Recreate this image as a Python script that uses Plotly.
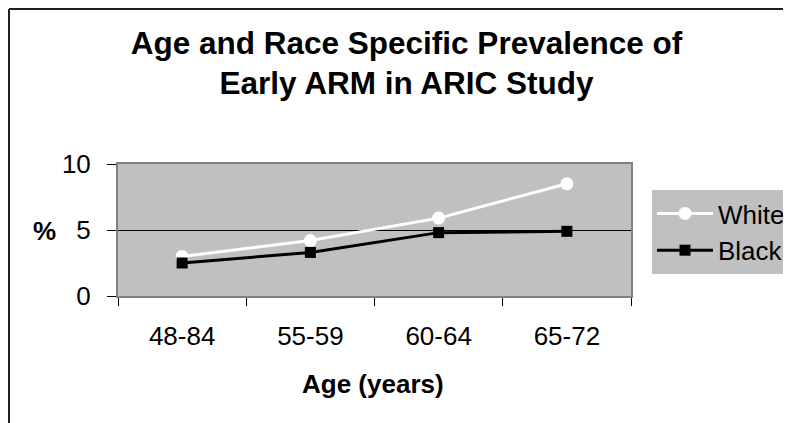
import plotly.graph_objects as go

categories = ["48-84", "55-59", "60-64", "65-72"]
white_values = [3.0, 4.2, 5.9, 8.5]
black_values = [2.5, 3.3, 4.8, 4.9]
y_ticks = [0, 5, 10]

title_text = "Age and Race Specific Prevalence of<br>Early ARM in ARIC Study"
x_title = "Age (years)"
y_title = "%"

# the page has an 8px body margin; work in page pixels and shift
OFF = 8
W, H = 791 - OFF, 423 - OFF
L, R, T, B = 118 - OFF, 631 - OFF, 164 - OFF, 296 - OFF
pw, ph = R - L, B - T

FONT = "Liberation Sans, Arial, sans-serif"

fig = go.Figure()
fig.add_trace(go.Scatter(
    x=categories, y=white_values, name="White", mode="lines+markers",
    line=dict(color="white", width=3),
    marker=dict(symbol="circle", size=13, color="white"),
))
fig.add_trace(go.Scatter(
    x=categories, y=black_values, name="Black", mode="lines+markers",
    line=dict(color="black", width=3),
    marker=dict(symbol="square", size=11, color="black"),
))


def px_x(x):
    return (x - OFF - L) / pw


def px_y(y):
    return (B - (y - OFF)) / ph


fig.update_layout(
    width=W, height=H,
    margin=dict(l=L, r=W - R, t=T, b=H - B, autoexpand=False),
    paper_bgcolor="white",
    plot_bgcolor="#C0C0C0",
    font=dict(family=FONT, size=26, color="black"),
    title=dict(text="<b>" + title_text + "</b>", x=(406.5 - OFF) / W, xanchor="center",
               xref="container", yref="container", y=1 - (53.5 - OFF) / H,
               yanchor="middle",
               font=dict(size=31.5, family=FONT, color="black")),
    showlegend=True,
    legend=dict(x=px_x(652), y=px_y(190), xanchor="left", yanchor="top",
                bgcolor="#C0C0C0", borderwidth=0, font=dict(size=26),
                itemwidth=56, tracegroupgap=0),
    xaxis=dict(type="category", categoryorder="array", categoryarray=categories,
               range=[-0.5, 3.5], showgrid=False, zeroline=False,
               showline=True, linecolor="#808080", linewidth=2, mirror=True,
               ticks="outside", tickson="boundaries", ticklen=8, tickcolor="black",
               tickwidth=1, ticklabelstandoff=16, tickfont=dict(size=26)),
    yaxis=dict(range=[0, 10], tickvals=y_ticks, showgrid=True, gridcolor="black",
               gridwidth=1, zeroline=False, showline=True, linecolor="#808080",
               linewidth=2, mirror=True, ticks="outside", ticklen=9, tickcolor="black",
               tickwidth=1, ticklabelstandoff=11, tickfont=dict(size=26)),
    annotations=[
        dict(text="<b>" + x_title + "</b>", xref="paper", yref="paper",
             x=px_x(373), y=px_y(384), xanchor="center", yanchor="middle",
             showarrow=False, font=dict(size=26)),
        dict(text="<b>" + y_title + "</b>", xref="paper", yref="paper",
             x=px_x(44.5), y=px_y(231), xanchor="center", yanchor="middle",
             showarrow=False, font=dict(size=26)),
    ],
    shapes=[
        dict(type="line", xref="paper", yref="paper", x0=px_x(9), x1=px_x(9),
             y0=px_y(9), y1=px_y(440), line=dict(color="#202020", width=2)),
        dict(type="line", xref="paper", yref="paper", x0=px_x(9), x1=px_x(810),
             y0=px_y(9), y1=px_y(9), line=dict(color="#202020", width=2)),
    ],
)

fig.write_html("out.html")
